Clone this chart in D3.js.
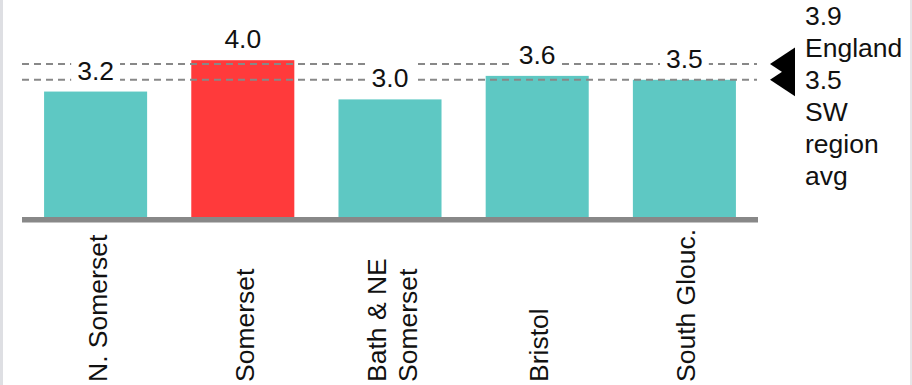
<!DOCTYPE html>
<html>
<head>
<meta charset="utf-8">
<script src="https://cdn.jsdelivr.net/npm/d3@7"></script>
<style>
  html, body { margin: 0; padding: 0; background: #fff; }
  svg { display: block; }
  text { font-family: "Liberation Sans", Arial, sans-serif; fill: #111; }
</style>
</head>
<body>
<svg id="chart" width="912" height="385"></svg>
<script>
// Local authority values
const categories = ["N. Somerset", "Somerset", "Bath & NE Somerset", "Bristol", "South Glouc."];
const categoryLines = [["N. Somerset"], ["Somerset"], ["Bath & NE", "Somerset"], ["Bristol"], ["South Glouc."]];
const values = [3.2, 4.0, 3.0, 3.6, 3.5];
const valueLabels = ["3.2", "4.0", "3.0", "3.6", "3.5"];
const highlighted = "Somerset";

// Reference averages
const refValues = [3.9, 3.5];
const refLines = [["3.9", "England"], ["3.5", "SW", "region", "avg"]];

const W = 912, H = 385;
const left = 22, right = 758, base = 217;
const fontSize = 26.5;

const svg = d3.select("#chart");

// page edges
svg.append("rect").attr("x", 0).attr("y", 0).attr("width", 3).attr("height", H).attr("fill", "#dedfe3");
svg.append("rect").attr("x", 910).attr("y", 0).attr("width", 2).attr("height", H).attr("fill", "#e6e6e8");

const x = d3.scaleBand()
  .domain(categories)
  .range([left, right])
  .paddingInner(0.3)
  .paddingOuter(0.15);

const y = d3.scaleLinear()
  .domain([0, 4])
  .range([base, base - 39.2 * 4]);

// bars
svg.append("g").selectAll("rect")
  .data(categories)
  .join("rect")
  .attr("x", d => x(d))
  .attr("y", (d, i) => y(values[i]))
  .attr("width", x.bandwidth())
  .attr("height", (d, i) => y(0) - y(values[i]))
  .attr("fill", d => d === highlighted ? "#ff3a3b" : "#5ec8c3");

// baseline
svg.append("rect")
  .attr("x", left).attr("y", base)
  .attr("width", right - left).attr("height", 5.5)
  .attr("fill", "#888");

// dashed average lines
svg.append("g").selectAll("line")
  .data(refValues)
  .join("line")
  .attr("x1", left).attr("x2", right - 1)
  .attr("y1", d => y(d)).attr("y2", d => y(d))
  .attr("stroke", "#888")
  .attr("stroke-width", 2)
  .attr("stroke-dasharray", "7,5");

// value labels on white boxes
const lbl = svg.append("g").selectAll("g")
  .data(categories)
  .join("g");

lbl.each(function(d, i) {
  const g = d3.select(this);
  const cx = x(d) + x.bandwidth() / 2;
  const baseline = y(values[i]) - 12;
  const t = g.append("text")
    .attr("x", cx).attr("y", baseline)
    .attr("text-anchor", "middle")
    .attr("font-size", fontSize)
    .text(valueLabels[i]);
  const w = t.node().getComputedTextLength();
  g.insert("rect", "text")
    .attr("x", cx - w / 2 - 6)
    .attr("y", baseline - 30)
    .attr("width", w + 12)
    .attr("height", 36)
    .attr("fill", "#fff");
});

// category labels, rotated
const lineGap = 31;
svg.append("g").selectAll("text")
  .data(categories)
  .join("text")
  .attr("font-size", fontSize)
  .attr("text-anchor", "start")
  .attr("transform", d => `translate(${x(d) + x.bandwidth() / 2},382) rotate(-90)`)
  .each(function(d, i) {
    const lines = categoryLines[i];
    const n = lines.length;
    d3.select(this).selectAll("tspan")
      .data(lines)
      .join("tspan")
      .attr("x", 0)
      .attr("y", (l, j) => (j - (n - 1) / 2) * lineGap + 11)
      .text(l => l);
  });

// reference markers and labels on the right
const tipX = 770, backX = 795, half = 16.5;
svg.append("g").selectAll("path")
  .data(refValues)
  .join("path")
  .attr("d", d => `M${tipX},${y(d)} L${backX},${y(d) - half} L${backX},${y(d) + half} Z`)
  .attr("fill", "#000");

const lh = 32;
refLines.forEach((lines, k) => {
  const yy = y(refValues[k]);
  const first = k === 0 ? yy - 7 - (lines.length - 1) * lh : yy + 9;
  svg.append("text")
    .attr("font-size", fontSize)
    .selectAll("tspan")
    .data(lines)
    .join("tspan")
    .attr("x", 805)
    .attr("y", (l, j) => first + j * lh)
    .text(l => l);
});
</script>
</body>
</html>
